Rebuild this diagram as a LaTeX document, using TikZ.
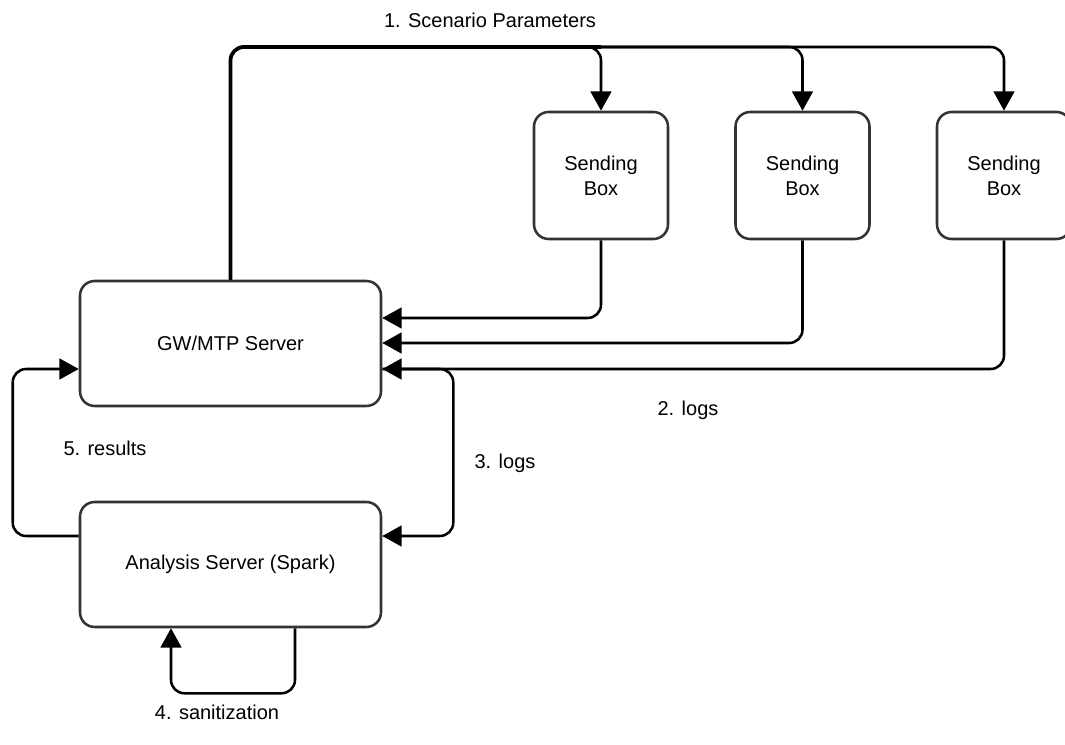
\documentclass[tikz,border=0pt]{standalone}
\usepackage{fontspec}
\setmainfont{Liberation Sans}
\usetikzlibrary{arrows.meta,calc}
\begin{document}
\begin{tikzpicture}[x=0.75pt,y=-0.75pt,
  font=\fontsize{15}{18.75}\selectfont,
  box/.style={draw=black!80,line width=1.9pt,rounded corners=11pt,fill=white,
    align=center,inner sep=0pt},
  srv/.style={box,minimum width=225.75pt,minimum height=93.75pt},
  sender/.style={box,minimum width=100.5pt,minimum height=95.25pt},
  conn/.style={line width=1.9pt,rounded corners=10pt,
    -{Triangle[length=14.5pt,width=15.5pt]}},
  lbl/.style={inner sep=0pt}]
\useasboundingbox (0,0) rectangle (1065,745);

% servers and sending boxes
\node[srv] (gw) at (230.5,343.5) {GW/MTP Server};
\node[srv] (an) at (230.5,564.5) {Analysis Server (Spark)};
\node[sender] (s1) at (601,175.5) {Sending\\Box};
\node[sender] (s2) at (802.5,175.5) {Sending\\Box};
\node[sender] (s3) at (1004,175.5) {Sending\\Box};
\coordinate (top) at (232,47);

% 1. scenario parameters fan out from the server
\draw[conn,line width=2.8pt,-] (gw.north) |- (s1.north |- top);
\draw[conn] (gw.north) |- (s1.north |- top) -- (s1.north);
\draw[conn] (gw.north) |- (s2.north |- top) -- (s2.north);
\draw[conn] (gw.north) |- (s3.north |- top) -- (s3.north);

% 2. logs back to the server
\draw[conn] (s1.south) |- ($(gw.east)+(0,-25.5)$);
\draw[conn] (s2.south) |- ($(gw.east)+(0,-0.5)$);
\draw[conn] (s3.south) |- ($(gw.east)+(0,25.5)$);

% 3. logs forwarded to analysis
\draw[conn] ($(gw.east)+(0,25.5)$) -- ++(71,0) |- ($(an.east)+(0,-28.5)$);

% 5. results
\draw[conn] ($(an.west)+(0,-28.5)$) -- ++(-66,0) |- ($(gw.west)+(0,25.5)$);

% 4. sanitization loop
\draw[conn] ($(an.south)+(64.5,0)$) -- ++(0,65) -| ($(an.south)+(-59.5,0)$);

% labels
\node[lbl] (l1) at (490,20) {1. Scenario Parameters};
\node[lbl] (l2) at (688,410) {2. logs};
\node[lbl] (l3) at (505,463) {3. logs};
\node[lbl] (l5) at (105,448) {5. results};
\node[lbl] (l4) at (217,712) {4. sanitization};
\end{tikzpicture}
\end{document}
